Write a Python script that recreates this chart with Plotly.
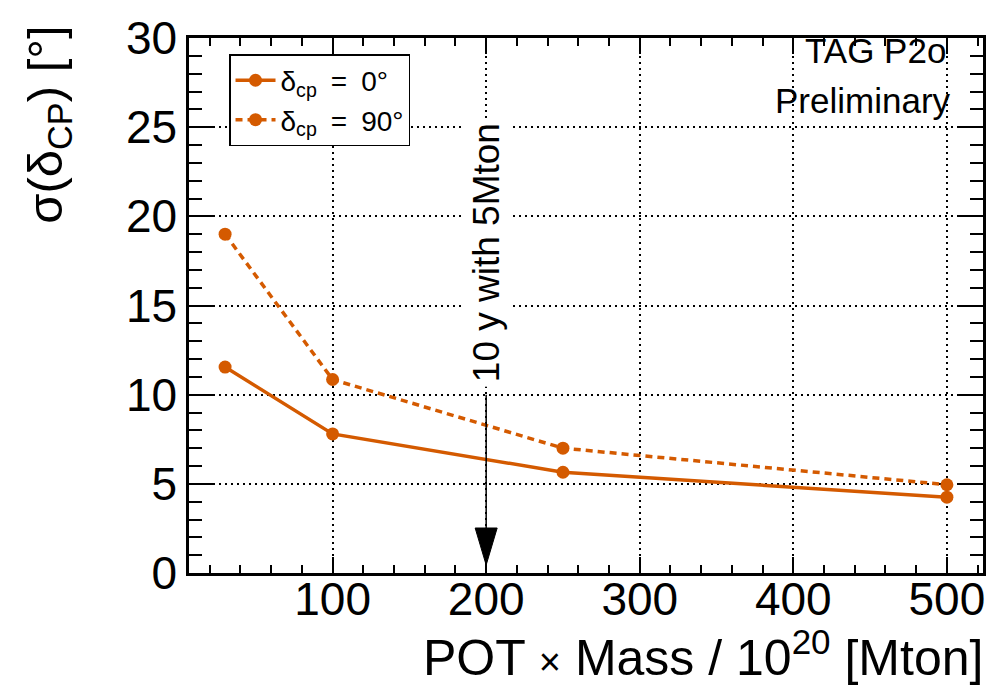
import plotly.graph_objects as go

pot_mass = [30, 100, 250, 500]
sigma_dcp0 = [11.55, 7.8, 5.65, 4.25]
sigma_dcp90 = [19.0, 10.85, 7.0, 4.95]
series_names = ["δ<sub>cp</sub>\u2002=\u20020°", "δ<sub>cp</sub>\u2002=\u200290°"]
arrow_x = 200
arrow_y_top = 10
arrow_label = "10 y with 5Mton"

ORANGE = "#d45a00"
FONT = "Liberation Sans, Arial, sans-serif"

fig = go.Figure()
fig.add_trace(go.Scatter(
    x=pot_mass, y=sigma_dcp0, mode="lines+markers", name=series_names[0],
    line=dict(color=ORANGE, width=3.5),
    marker=dict(color=ORANGE, size=13, symbol="circle")))
fig.add_trace(go.Scatter(
    x=pot_mass, y=sigma_dcp90, mode="lines+markers", name=series_names[1],
    line=dict(color=ORANGE, width=3.5, dash="7px,5px"),
    marker=dict(color=ORANGE, size=13, symbol="circle")))

axis_common = dict(
    showline=True, linecolor="black", linewidth=2.5, mirror="allticks",
    ticks="inside", tickcolor="black", tickwidth=2,
    showgrid=True, gridcolor="black", gridwidth=1.5, griddash="2px,4px",
    zeroline=False, tickfont=dict(family=FONT, size=46, color="black"),
)

fig.update_xaxes(**axis_common, range=[6.5, 523.5], tick0=0, dtick=100, ticklen=16,
                 ticklabelstandoff=-16,
                 minor=dict(dtick=20, ticklen=8, tickcolor="black", tickwidth=2,
                            ticks="inside", showgrid=False))
fig.update_yaxes(**axis_common, range=[0, 30], tick0=0, dtick=5, ticklen=26,
                 minor=dict(dtick=1, ticklen=13, tickcolor="black", tickwidth=2,
                            ticks="inside", showgrid=False))

# arrow
fig.add_shape(type="line", xref="x", yref="y", x0=arrow_x, x1=arrow_x,
              y0=arrow_y_top, y1=0, line=dict(color="black", width=1.5))
fig.add_shape(type="path", xref="x", yref="y", xsizemode="pixel", ysizemode="pixel",
              xanchor=arrow_x, yanchor=0, path="M-11,45 L11,45 L0,8 Z",
              fillcolor="black", line=dict(color="black", width=1))

fig.add_annotation(x=arrow_x, y=arrow_y_top + 0.4, xref="x", yref="y",
                   text=arrow_label, textangle=-90, showarrow=False,
                   xanchor="center", yanchor="bottom", bgcolor="white",
                   borderpad=4,
                   font=dict(family=FONT, size=37, color="black"))

fig.add_annotation(x=0.956, y=0.976, xref="paper", yref="paper", text="TAG P2o",
                   showarrow=False, xanchor="right", yanchor="middle",
                   font=dict(family=FONT, size=35, color="black"))
fig.add_annotation(x=0.962, y=0.884, xref="paper", yref="paper", text="Preliminary",
                   showarrow=False, xanchor="right", yanchor="middle",
                   font=dict(family=FONT, size=35, color="black"))

fig.add_annotation(x=-0.178, y=1.026, xref="paper", yref="paper",
                   text="σ(δ<sub>CP</sub>) [°]", textangle=-90, showarrow=False,
                   xanchor="center", yanchor="top",
                   font=dict(family=FONT, size=49, color="black"))
fig.add_annotation(x=1.0025, y=-0.215, xref="paper", yref="paper",
                   text="POT <span style='font-size:38px'>×</span> Mass / 10<sup>20</sup> [Mton]",
                   showarrow=False, xanchor="right", yanchor="bottom",
                   font=dict(family=FONT, size=50, color="black"))

fig.update_layout(
    width=1004, height=686,
    margin=dict(l=189, r=21, t=28, b=113),
    paper_bgcolor="white", plot_bgcolor="white",
    showlegend=True,
    legend=dict(x=0.0504, y=0.97, xanchor="left", yanchor="top",
                bgcolor="white", bordercolor="black", borderwidth=1.5,
                font=dict(family=FONT, size=28, color="black"),
                itemwidth=40, tracegroupgap=0),
)

fig.write_html("out.html")
